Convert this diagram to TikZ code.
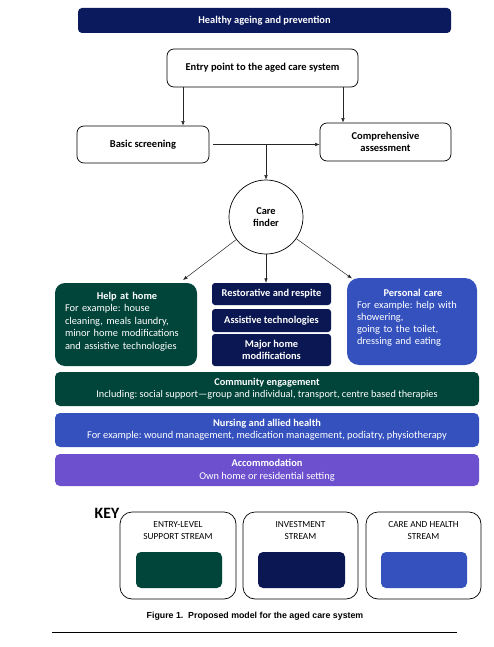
\documentclass[tikz,border=0pt]{standalone}
\usepackage{fontspec}
\setmainfont{Carlito}
\newfontfamily\capfont{Liberation Sans}
\usetikzlibrary{arrows.meta,calc}
\definecolor{navytop}{HTML}{0B1A5C}
\definecolor{navymid}{HTML}{0A1752}
\definecolor{egreen}{HTML}{00443A}
\definecolor{cblue}{HTML}{3551BE}
\definecolor{cpurple}{HTML}{6C50CE}
\frenchspacing
\begin{document}
\begin{tikzpicture}[x=1pt,y=-1pt,
  wbox/.style={draw=black, line width=0.7pt, fill=white, rounded corners=7pt, inner sep=0pt, align=center, font=\fontsize{10.5}{12.5}\selectfont\bfseries},
  colbox/.style={rounded corners=#1, inner sep=0pt, text=white, align=center},
  title/.style={font=\fontsize{10.4}{12}\selectfont\bfseries},
  bodytext/.style={inner sep=0pt, text=white, align=left, anchor=north west},
  arr/.style={-{Latex[length=4.5pt,width=3.5pt]}, line width=0.5pt, draw=black!85},
  keybox/.style={draw=black, line width=0.7pt, fill=white, rounded corners=12pt, minimum width=115pt, minimum height=87pt, inner sep=0pt},
  keytitle/.style={align=center, font=\fontsize{9.3}{12}\selectfont, inner sep=0pt, anchor=north},
  swatch/.style={rounded corners=5pt, minimum width=86pt, minimum height=36pt, inner sep=0pt}
]
\useasboundingbox (0,0) rectangle (494,647);

% top bar
\node[colbox=4pt, fill=navytop, minimum width=373pt, minimum height=25pt, title] (top) at (264.5,20.5) {Healthy ageing and prevention};

% entry / screening / assessment
\node[wbox, minimum width=191pt, minimum height=38pt] (entry) at (262.5,68) {Entry point to the aged care system};
\node[wbox, minimum width=132pt, minimum height=37pt] (basic) at (143,144.5) {Basic screening};
\node[wbox, minimum width=131pt, minimum height=38pt] (comp) at (385.5,142) {Comprehensive\\assessment};

% care finder
\node[circle, draw=black, line width=0.7pt, minimum size=74pt, inner sep=0pt, align=center, font=\fontsize{10.4}{12.5}\selectfont\bfseries] (cf) at (266,217) {Care\\finder};

% stream boxes
\node[colbox=10pt, fill=egreen, minimum width=142pt, minimum height=83pt] (help) at (126,324.5) {};
\node[bodytext, text width=124pt, font=\fontsize{10.4}{12.5}\selectfont] (helpt) at ($(help.north west)+(10,9)$)
  {\makebox[\linewidth][c]{\bfseries Help at home}\\For example: house\\cleaning, meals laundry,\\minor home modifications\\and assistive technologies};

\node[colbox=3pt, fill=navymid, minimum width=119pt, minimum height=22pt, title] (rest) at (271.5,294) {Restorative and respite};
\node[colbox=3pt, fill=navymid, minimum width=119pt, minimum height=23pt, title] (assist) at (271.5,320.5) {Assistive technologies};
\node[colbox=3pt, fill=navymid, minimum width=119pt, minimum height=32pt, title] (major) at (271.5,350) {Major home\\modifications};

\node[colbox=12pt, fill=cblue, minimum width=130pt, minimum height=87pt] (pers) at (412,321.5) {};
\node[bodytext, text width=112pt, font=\fontsize{10.4}{12}\selectfont] (perst) at ($(pers.north west)+(10,11)$)
  {\makebox[\linewidth][c]{\bfseries Personal care}\\For example: help with\\showering,\\going to the toilet,\\dressing and eating};

% horizontal bars
\node[colbox=5pt, fill=egreen, minimum width=424pt, minimum height=34pt, font=\fontsize{10.3}{12}\selectfont] (comm) at (267,389)
  {\textbf{Community engagement}\\Including: social support\textemdash group and individual, transport, centre based therapies};
\node[colbox=5pt, fill=cblue, minimum width=424pt, minimum height=34pt, font=\fontsize{10.4}{12}\selectfont] (nurs) at (267,430)
  {\textbf{Nursing and allied health}\\For example: wound management, medication management, podiatry, physiotherapy};
\node[colbox=5pt, fill=cpurple, minimum width=424pt, minimum height=32pt, font=\fontsize{10.4}{12.5}\selectfont] (acc) at (267,470)
  {\textbf{Accommodation}\\Own home or residential setting};

% connectors
\coordinate (xl) at (183,0);
\coordinate (xr) at (343,0);
\draw[arr] (entry.south -| xl) -- (basic.north -| xl);
\draw[arr] (entry.south -| xr) -- (comp.north -| xr);
\draw[arr, shorten <=4pt] (basic.east) -- (comp.west |- basic.east);
\coordinate (jn) at (cf.north |- basic.east);
\draw[arr] (jn) -- (cf.north);
\coordinate (hl) at (183,280);
\coordinate (pr) at (352,278.5);
\draw[arr] (cf) -- (hl);
\draw[arr] (cf.south) -- (rest.north -| cf.south);
\draw[arr] (cf) -- (pr);

% key
\node[font=\fontsize{15.8}{17}\selectfont\bfseries, inner sep=0pt] (keylbl) at (107,513) {KEY};
\node[keybox, minimum width=116pt] (k1) at (178,555.5) {};
\node[keybox] (k2) at (300.5,555.5) {};
\node[keybox] (k3) at (423.5,555.5) {};
\node[keytitle] (t1) at ($(k1.north)+(0,10)$) {ENTRY-LEVEL\\SUPPORT STREAM};
\node[keytitle] (t2) at ($(k2.north)+(0,10)$) {INVESTMENT\\STREAM};
\node[keytitle] (t3) at ($(k3.north)+(0,10)$) {CARE AND HEALTH\\STREAM};
\node[swatch, fill=egreen] (s1) at (179,570) {};
\node[swatch, fill=navymid, minimum width=87pt] (s2) at (301.5,570) {};
\node[swatch, fill=cblue] (s3) at (424,570) {};

% caption and rule
\node[font=\capfont\fontsize{8.8}{10}\selectfont\bfseries, inner sep=0pt] (cap) at (255,616) {Figure 1.\ \ Proposed model for the aged care system};
\coordinate (rl) at (52,632);
\coordinate (rr) at (457,632);
\draw[line width=0.8pt] (rl) -- (rr);
\end{tikzpicture}
\end{document}
